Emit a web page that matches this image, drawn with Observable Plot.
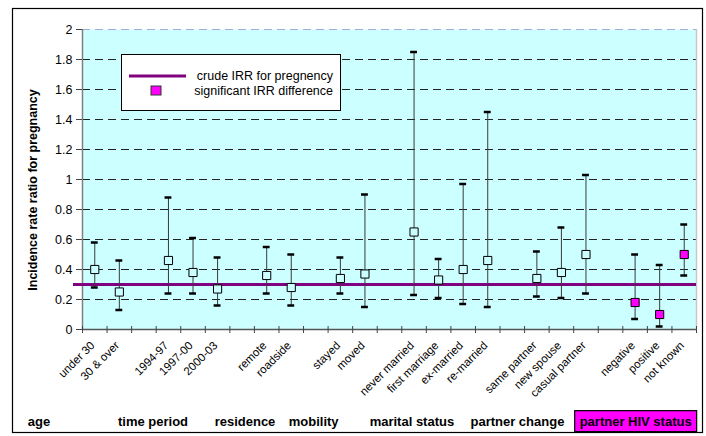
<!DOCTYPE html>
<html><head><meta charset="utf-8">
<script src="https://cdn.jsdelivr.net/npm/d3@7"></script>
<script src="https://cdn.jsdelivr.net/npm/@observablehq/plot@0.6"></script>
<style>body{margin:0;background:#fff;} svg{display:block;}</style>
</head><body><div id="chart"></div>
<script>
const categories = ["under 30","30 & over","1994-97","1997-00","2000-03","remote","roadside","stayed","moved","never married","first marriage","ex-married","re-married","same partner","new spouse","casual partner","negative","positive","not known"];
const categoryGroup = ["age","age","time period","time period","time period","residence","residence","mobility","mobility","marital status","marital status","marital status","marital status","partner change","partner change","partner change","partner HIV status","partner HIV status","partner HIV status"];
const estimate = [0.40,0.25,0.46,0.38,0.27,0.36,0.28,0.34,0.37,0.65,0.33,0.40,0.46,0.34,0.38,0.50,0.18,0.10,0.50];
const lower    = [0.28,0.13,0.24,0.24,0.16,0.24,0.16,0.24,0.15,0.23,0.21,0.17,0.15,0.22,0.21,0.24,0.07,0.02,0.36];
const upper    = [0.58,0.46,0.88,0.61,0.48,0.55,0.50,0.48,0.90,1.85,0.47,0.97,1.45,0.52,0.68,1.03,0.50,0.43,0.70];
const significant = [false,false,false,false,false,false,false,false,false,false,false,false,false,false,false,false,true,true,true];
const groupNames = ["age","time period","residence","mobility","marital status","partner change","partner HIV status"];
const yTicks = [0,0.2,0.4,0.6,0.8,1,1.2,1.4,1.6,1.8,2];
const crudeIRR = 0.3;
const legendLabels = ["crude IRR for pregnency","significant IRR difference"];
const yTitle = "Incidence rate ratio for pregnancy";
const highlightedGroup = "partner HIV status";

// layout: one slot per category, an empty slot between groups
let slot = -1, prev = null;
const rows = categories.map((c, i) => {
  if (prev !== null && categoryGroup[i] !== prev) slot++;
  slot++; prev = categoryGroup[i];
  return {cat: c, group: categoryGroup[i], x: slot + 0.5, est: estimate[i], lo: lower[i], hi: upper[i], sig: significant[i]};
});
const nSlots = slot + 1;
const groupRows = groupNames.map(g => ({group: g, x: d3.mean(rows.filter(r => r.group === g), r => r.x)}));
const groupShift = {"age": -68, "time period": -40, "residence": -34, "mobility": -39, "marital status": -39, "partner change": -44, "partner HIV status": -24};

const BG = "#CCFFFF", PURPLE = "#800080", MAGENTA = "#FF00FF";
const font = "Arial, 'Liberation Sans', sans-serif";

const chart = Plot.plot({
  width: 706, height: 436,
  marginLeft: 82, marginRight: 10, marginTop: 29, marginBottom: 107,
  style: {fontFamily: font, fontSize: "12px", background: "#fff", color: "#000"},
  x: {domain: [0, nSlots], axis: null},
  y: {domain: [0, 2], axis: null},
  marks: [
    Plot.frame({fill: BG, stroke: null}),
    Plot.ruleY(yTicks.filter(t => t > 0 && t < 2), {stroke: "#222", strokeDasharray: "8,5", strokeWidth: 1}),
    Plot.ruleY([2], {stroke: "#a8a8e0", strokeDasharray: "8,5", strokeWidth: 1}),
    Plot.ruleX([nSlots], {stroke: "#c8c8c8", strokeWidth: 1.5}),
    Plot.ruleX([0], {stroke: "#808080", strokeWidth: 1.5}),
    Plot.axisY({ticks: yTicks, tickSize: 6, tickPadding: 4, tickFormat: d => String(d), fontSize: 12.5, stroke: "#444", label: null}),
    Plot.ruleY([0], {stroke: "#555", strokeWidth: 1.5}),
    Plot.axisX({ticks: d3.range(0, nSlots + 1), tickSize: 7, dy: -3, tickFormat: () => "", stroke: "#444", label: null}),
    Plot.ruleY([crudeIRR], {stroke: PURPLE, strokeWidth: 3, insetLeft: -9}),
    Plot.ruleX(rows, {x: "x", y1: "lo", y2: "hi", stroke: "#3a3a3a", strokeWidth: 1}),
    Plot.ruleY(rows, {y: "hi", x1: d => d.x - 0.14, x2: d => d.x + 0.14, stroke: "#000", strokeWidth: 2.5}),
    Plot.ruleY(rows, {y: "lo", x1: d => d.x - 0.14, x2: d => d.x + 0.14, stroke: "#000", strokeWidth: 2.5}),
    Plot.dot(rows, {x: "x", y: "est", symbol: "square", r: 4.6, fill: d => d.sig ? MAGENTA : BG, stroke: "#000", strokeWidth: 1}),
    Plot.text(rows, {x: "x", y: 0, text: "cat", rotate: -45, textAnchor: "end", lineAnchor: "middle", dx: -2, dy: 14, fontSize: 11.5}),
    Plot.text(groupRows, {x: "x", y: 0, text: "group", dy: 92, fontWeight: "bold", fontSize: 13, lineAnchor: "middle", className: "grp"})
  ]
});
document.getElementById("chart").appendChild(chart);

const svg = d3.select(chart);
// shift group labels horizontally and box the highlighted one
svg.selectAll(".grp text").each(function(d, i) {
  const g = groupRows[i].group;
  const el = d3.select(this);
  const t = (el.attr("transform") || "") + ` translate(${groupShift[g]},0)`;
  el.attr("transform", t);
  if (g === highlightedGroup) {
    const bb = this.getBBox();
    d3.select(this.parentNode).insert("rect", () => this)
      .attr("transform", t)
      .attr("x", bb.x - 5).attr("y", bb.y - 3).attr("width", bb.width + 10).attr("height", bb.height + 6)
      .attr("fill", MAGENTA).attr("stroke", "#000").attr("stroke-width", 1.2);
  }
});
// outer border
svg.append("rect").attr("x", 12.5).attr("y", 8.5).attr("width", 690).attr("height", 424)
  .attr("fill", "none").attr("stroke", "#000").attr("stroke-width", 1.2);
// y title
svg.append("text").attr("transform", "translate(37,190) rotate(-90)")
  .attr("text-anchor", "middle").attr("font-weight", "bold").attr("font-size", 12.5)
  .attr("font-family", font).text(yTitle);
// legend
const lg = svg.append("g").attr("font-family", font).attr("font-size", 12.5);
lg.append("rect").attr("x", 121.5).attr("y", 54.5).attr("width", 219).attr("height", 56)
  .attr("fill", "#fff").attr("stroke", "#000").attr("stroke-width", 1);
lg.append("line").attr("x1", 129).attr("x2", 186).attr("y1", 76).attr("y2", 76)
  .attr("stroke", PURPLE).attr("stroke-width", 3);
lg.append("rect").attr("x", 151).attr("y", 86).attr("width", 10).attr("height", 9)
  .attr("fill", MAGENTA).attr("stroke", "#333");
lg.append("text").attr("x", 333).attr("y", 80).attr("text-anchor", "end").text(legendLabels[0]);
lg.append("text").attr("x", 333).attr("y", 95).attr("text-anchor", "end").text(legendLabels[1]);
</script></body></html>
